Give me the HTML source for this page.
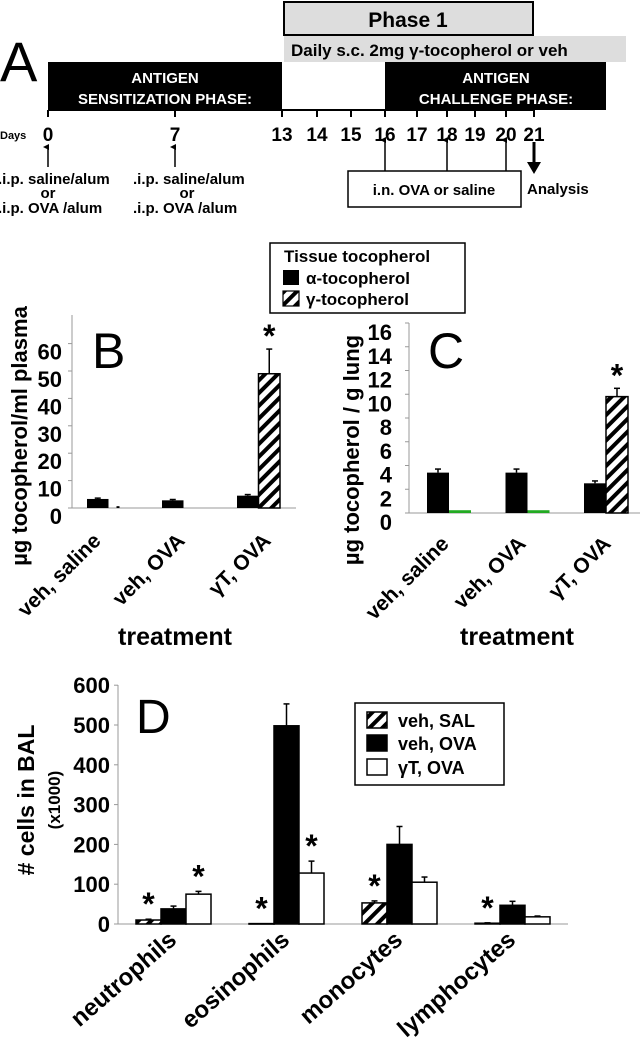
<!DOCTYPE html>
<html><head><meta charset="utf-8">
<style>
html,body{margin:0;padding:0;background:#fff;overflow:hidden;}
svg{display:block;font-family:"Liberation Sans",Arial,sans-serif;font-weight:bold;}
</style></head>
<body>
<svg id="fig" width="644" height="1050" viewBox="0 0 644 1050" xmlns="http://www.w3.org/2000/svg">
<defs>
<pattern id="hatch" patternUnits="userSpaceOnUse" width="9" height="9" patternTransform="rotate(45)">
<rect width="9" height="9" fill="#fff"/><rect x="0" y="0" width="4" height="9" fill="#000"/>
</pattern>
<marker id="ah" markerWidth="6" markerHeight="6" refX="3" refY="5" orient="auto-start-reverse" markerUnits="userSpaceOnUse"><path d="M0,6 L3,0 L6,6 Z" fill="#000"/></marker>
</defs>

<!-- Panel A -->
<g>
<text x="0" y="81" font-size="56" font-weight="normal">A</text>
<rect x="284" y="2" width="249" height="33" fill="#ddd" stroke="#000" stroke-width="2"/>
<text x="408" y="27" font-size="21" text-anchor="middle">Phase 1</text>
<rect x="284" y="36" width="342" height="26" fill="#ddd"/>
<text x="291" y="56" font-size="17">Daily s.c. 2mg γ-tocopherol or veh</text>
<rect x="48" y="62" width="234" height="48" fill="#000"/>
<text x="165" y="83" font-size="15" fill="#fff" text-anchor="middle">ANTIGEN</text>
<text x="165" y="104" font-size="15" fill="#fff" text-anchor="middle">SENSITIZATION PHASE:</text>
<rect x="385" y="62" width="221" height="48" fill="#000"/>
<text x="496" y="83" font-size="15" fill="#fff" text-anchor="middle">ANTIGEN</text>
<text x="496" y="104" font-size="15" fill="#fff" text-anchor="middle">CHALLENGE PHASE:</text>
<line x1="48" y1="110" x2="534" y2="110" stroke="#000" stroke-width="2"/>
<text x="0" y="139" font-size="11">Days</text>
<g id="dayticks"></g>
<line x1="48" y1="167" x2="48" y2="147" stroke="#000" stroke-width="1.5" marker-end="url(#ah)"/>
<line x1="175" y1="167" x2="175" y2="147" stroke="#000" stroke-width="1.5" marker-end="url(#ah)"/>
<g font-size="15">
<text x="-2" y="184">.i.p. saline/alum</text><text x="48" y="198" text-anchor="middle">or</text><text x="-2" y="213">.i.p. OVA /alum</text>
<text x="133" y="184">.i.p. saline/alum</text><text x="187" y="198" text-anchor="middle">or</text><text x="133" y="213">.i.p. OVA /alum</text>
</g>
<rect x="348" y="171" width="173" height="36" fill="#fff" stroke="#000" stroke-width="1.5"/>
<text x="434" y="195" font-size="15" text-anchor="middle">i.n. OVA or saline</text>
<line x1="385" y1="171" x2="385" y2="140" stroke="#000" stroke-width="1.5" marker-end="url(#ah)"/>
<line x1="447" y1="171" x2="447" y2="140" stroke="#000" stroke-width="1.5" marker-end="url(#ah)"/>
<line x1="506" y1="171" x2="506" y2="140" stroke="#000" stroke-width="1.5" marker-end="url(#ah)"/>
<line x1="534" y1="142" x2="534" y2="165" stroke="#000" stroke-width="3"/>
<path d="M527,162 L541,162 L534,174 Z" fill="#000"/>
<text x="527" y="194" font-size="15">Analysis</text>
</g>

<!-- Legend B/C -->
<g>
<rect x="270" y="243" width="195" height="70" fill="#fff" stroke="#000" stroke-width="1.5"/>
<text x="284" y="262" font-size="17">Tissue tocopherol</text>
<rect x="283" y="270" width="16" height="15" fill="#000"/>
<text x="306" y="284" font-size="17">α-tocopherol</text>
<rect x="283" y="291" width="16" height="15" fill="url(#hatch)" stroke="#000" stroke-width="1.2"/>
<text x="306" y="305" font-size="17">γ-tocopherol</text>
</g>

<g id="panelB"></g>
<g id="panelC"></g>
<g id="panelD"></g>
</svg>
<script>
const NS='http://www.w3.org/2000/svg';
const dayLabels=['0','7','13','14','15','16','17','18','19','20','21'];
const dayX=[48,175,282,317,351,385,417,447,475,506,534];

const bCats=['veh, saline','veh, OVA','γT, OVA'];
const bAlpha=[3.3,2.8,4.5];
const bAlphaErr=[0.3,0.3,0.4];
const bGamma=[0.3,0,49];
const bGammaErr=[0,0,9];
const bTicks=[0,10,20,30,40,50,60];

const cCats=['veh, saline','veh, OVA','γT, OVA'];
const cAlpha=[3.4,3.4,2.5];
const cAlphaErr=[0.3,0.3,0.2];
const cGamma=[0.15,0.15,9.8];
const cGammaErr=[0.05,0.05,0.7];
const cTicks=[0,2,4,6,8,10,12,14,16];

const dCats=['neutrophils','eosinophils','monocytes','lymphocytes'];
const dSal=[10,1,53,2];
const dSalErr=[2,0,5,1];
const dOva=[38,498,200,47];
const dOvaErr=[7,55,45,10];
const dGt=[75,128,105,18];
const dGtErr=[7,30,13,2];
const dTicks=[0,100,200,300,400,500,600];

function mk(tag,attrs,parent,text){const e=document.createElementNS(NS,tag);for(const k in attrs)e.setAttribute(k,attrs[k]);if(text!==undefined)e.textContent=text;parent.appendChild(e);return e;}

const dt=document.getElementById('dayticks');
dayLabels.forEach((d,i)=>{
  const t=mk('line',{x1:dayX[i],y1:110,x2:dayX[i],y2:117,stroke:'#000','stroke-width':2},dt);
  
  
  const l=mk('text',{x:dayX[i],y:141,'font-size':19,'text-anchor':'middle'},dt,d);
  
  
});

function errBar(g,x,yTop,yErr){
  const e=mk('line',{x1:x,y1:yTop,x2:x,y2:yErr,stroke:'#000','stroke-width':1.5},g);
  
  
  mk('line',{x1:x-3,y1:yErr,x2:x+3,y2:yErr,stroke:'#000','stroke-width':1.5},g);
}
function star(g,x,y){
  const s=mk('text',{x:x,y:y+14,'font-size':32,'text-anchor':'middle'},g,'*');
  
  
}

// Panel B
(function(){
  const g=document.getElementById('panelB');
  const y0=508, k=2.74, ax=72;
  const Y=v=>y0-v*k;
  mk('line',{x1:ax,y1:315,x2:ax,y2:y0,stroke:'#999','stroke-width':1},g);
  mk('line',{x1:ax,y1:y0,x2:296,y2:y0,stroke:'#999','stroke-width':1},g);
  bTicks.forEach(t=>{
    mk('line',{x1:ax-4,y1:Y(t),x2:ax,y2:Y(t),stroke:'#999'},g);
    const l=mk('text',{x:62,y:Y(t)+16,'font-size':22,'text-anchor':'end'},g,String(t));
    
    
  });
  mk('text',{x:92,y:368,'font-size':50,'font-weight':'normal'},g,'B');
  const w=21.5;
  bCats.forEach((c,i)=>{
    const x0=87+75*i;
    const a=mk('rect',{x:x0,y:Y(bAlpha[i]),width:w,height:bAlpha[i]*k,fill:'#000'},g);
    
    
    errBar(g,x0+w/2,Y(bAlpha[i]),Y(bAlpha[i]+bAlphaErr[i]));
    if(bGamma[i]>2){
      const h=mk('rect',{x:x0+w,y:Y(bGamma[i]),width:w,height:bGamma[i]*k,fill:'url(#hatch)',stroke:'#000','stroke-width':1.5},g);
      
      
      errBar(g,x0+w*1.5,Y(bGamma[i]),Y(bGamma[i]+bGammaErr[i]));
      star(g,x0+w*1.5,Y(bGamma[i]+bGammaErr[i])-16);
    } else if(bGamma[i]>0){
      const h=mk('rect',{x:x0+w+8,y:Y(bGamma[i])-1,width:3,height:bGamma[i]*k+1,fill:'#000'},g);
      
      
    }
    const ex=[102,186,272][i], ey=542;
    const l=mk('text',{x:ex,y:ey,'font-size':21,'text-anchor':'end',transform:`rotate(-45 ${ex} ${ey})`},g,c);
    
    
  });
  const yl=mk('text',{x:27,y:436,'font-size':22,'text-anchor':'middle',transform:'rotate(-90 27 436)'},g,'µg tocopherol/ml plasma');
  
  
  const xl=mk('text',{x:175,y:645,'font-size':25,'text-anchor':'middle'},g,'treatment');
  
  
})();

// Panel C
(function(){
  const g=document.getElementById('panelC');
  const y0=513, k=11.875, ax=409;
  const Y=v=>y0-v*k;
  mk('line',{x1:ax,y1:323,x2:ax,y2:y0,stroke:'#999','stroke-width':1},g);
  mk('line',{x1:ax,y1:y0,x2:640,y2:y0,stroke:'#999','stroke-width':1},g);
  cTicks.forEach(t=>{
    mk('line',{x1:ax-4,y1:Y(t),x2:ax,y2:Y(t),stroke:'#999'},g);
    const l=mk('text',{x:392,y:Y(t)+17,'font-size':22,'text-anchor':'end'},g,String(t));
    
    
  });
  mk('text',{x:428,y:368,'font-size':50,'font-weight':'normal'},g,'C');
  const w=22;
  cCats.forEach((c,i)=>{
    const x0=427+78.5*i;
    const a=mk('rect',{x:x0,y:Y(cAlpha[i]),width:w,height:cAlpha[i]*k,fill:'#000'},g);
    
    
    errBar(g,x0+w/2,Y(cAlpha[i]),Y(cAlpha[i]+cAlphaErr[i]));
    if(cGamma[i]>1){
      const h=mk('rect',{x:x0+w,y:Y(cGamma[i]),width:w,height:cGamma[i]*k,fill:'url(#hatch)',stroke:'#000','stroke-width':1.5},g);
      
      
      errBar(g,x0+w*1.5,Y(cGamma[i]),Y(cGamma[i]+cGammaErr[i]));
      star(g,x0+w*1.5,Y(cGamma[i]+cGammaErr[i])-16);
    } else {
      const h=mk('rect',{x:x0+w,y:Y(cGamma[i])-1,width:w,height:cGamma[i]*k+1,fill:'#2a2'},g);
      
      
    }
    const ex=[450,527,612][i], ey=545;
    const l=mk('text',{x:ex,y:ey,'font-size':21,'text-anchor':'end',transform:`rotate(-45 ${ex} ${ey})`},g,c);
    
    
  });
  const yl=mk('text',{x:359,y:450,'font-size':22,'text-anchor':'middle',transform:'rotate(-90 359 450)'},g,'µg tocopherol / g lung');
  
  
  const xl=mk('text',{x:517,y:645,'font-size':25,'text-anchor':'middle'},g,'treatment');
  
  
})();

// Panel D
(function(){
  const g=document.getElementById('panelD');
  const y0=924, k=0.398, ax=118;
  const Y=v=>y0-v*k;
  mk('line',{x1:ax,y1:685,x2:ax,y2:y0,stroke:'#999','stroke-width':1},g);
  mk('line',{x1:ax,y1:y0,x2:568,y2:y0,stroke:'#999','stroke-width':1},g);
  dTicks.forEach(t=>{
    mk('line',{x1:ax-4,y1:Y(t),x2:ax,y2:Y(t),stroke:'#999'},g);
    const l=mk('text',{x:110,y:Y(t)+8,'font-size':22,'text-anchor':'end'},g,String(t));
    
    
  });
  mk('text',{x:136,y:733,'font-size':48,'font-weight':'normal'},g,'D');
  const w=25;
  const series=[[dSal,dSalErr,'url(#hatch)','bar-d-veh-sal'],[dOva,dOvaErr,'#000','bar-d-veh-ova'],[dGt,dGtErr,'#fff','bar-d-gt-ova']];
  const stars=[[0,2],[0,2],[0],[0]];
  dCats.forEach((c,i)=>{
    const x0=136+113*i;
    series.forEach((s,j)=>{
      const v=s[0][i], e=s[1][i];
      const r=mk('rect',{x:x0+w*j,y:Y(v),width:w,height:Math.max(v*k,0.5),fill:s[2],stroke:'#000','stroke-width':1.5},g);
      
      
      if(e>0) errBar(g,x0+w*j+w/2,Y(v),Y(v+e));
      if(stars[i].includes(j)) star(g,x0+w*j+w/2,Y(v+e)-18);
    });
    const ex=x0+42, ey=942;
    const l=mk('text',{x:ex,y:ey,'font-size':24,'text-anchor':'end',transform:`rotate(-41 ${ex} ${ey})`},g,c);
    
    
  });
  const lg=mk('g',{},g);
  
  
  mk('rect',{x:355,y:703,width:149,height:82,fill:'#fff',stroke:'#000','stroke-width':1.5},lg);
  const labs=['veh, SAL','veh, OVA','γT, OVA'];
  labs.forEach((t,j)=>{
    const yy=[712,735,759][j];
    mk('rect',{x:367,y:yy,width:20,height:16,fill:series[j][2],stroke:'#000','stroke-width':1.5},lg);
    mk('text',{x:398,y:yy+15,'font-size':18},lg,t);
  });
  const yl=mk('text',{x:34,y:800,'font-size':23,'text-anchor':'middle',transform:'rotate(-90 34 800)'},g,'# cells in BAL');
  
  
  const yl2=mk('text',{x:60,y:800,'font-size':17,'text-anchor':'middle',transform:'rotate(-90 60 800)'},g,'(x1000)');
  
  
})();
</script>
</body></html>
